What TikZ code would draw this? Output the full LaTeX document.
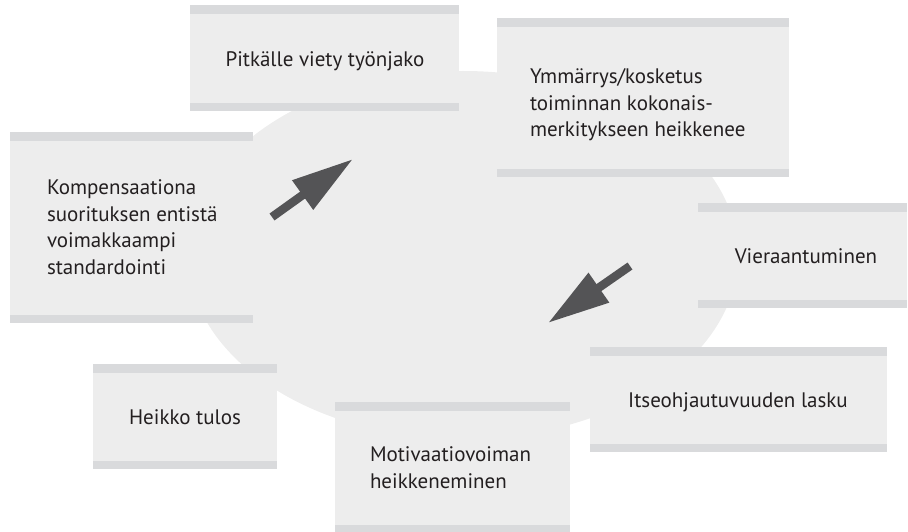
\documentclass[tikz,border=0pt]{standalone}
\usepackage{fontspec}
\setmainfont{PT Sans}
\usetikzlibrary{arrows.meta,shapes.geometric}

\definecolor{panel}{RGB}{237,237,237}
\definecolor{band}{RGB}{217,218,220}
\definecolor{blob}{RGB}{237,237,237}
\definecolor{ink}{RGB}{35,31,32}
\definecolor{arrowgray}{RGB}{84,84,86}

\tikzset{
  card/.style={fill=panel, inner sep=0pt, outer sep=0pt, anchor=north west,
    path picture={
      \fill[band] (path picture bounding box.north west)
        rectangle ([yshift=-9pt]path picture bounding box.north east);
      \fill[band] (path picture bounding box.south west)
        rectangle ([yshift=8pt]path picture bounding box.south east);
    }},
  cardtext/.style={text=ink, font=\fontsize{21}{26.5}\selectfont,
    inner sep=0pt, outer sep=0pt, align=left},
  flow/.style={draw=arrowgray, line width=8.5pt,
    -{Triangle[length=62pt,width=34pt]}}
}

\begin{document}
\begin{tikzpicture}[x=1pt,y=-1pt]
  \useasboundingbox (0,0) rectangle (908,532);

  % central backdrop
  \node[ellipse, fill=blob, inner sep=0pt, minimum width=550pt,
        minimum height=368pt] (hub) at (463,255) {};

  % cards
  \node[card, minimum width=269pt, minimum height=106pt] (b1) at (190,5) {};
  \node[card, minimum width=292pt, minimum height=159pt] (b2) at (497,18) {};
  \node[card, minimum width=243pt, minimum height=191pt] (b3) at (10,132) {};
  \node[card, minimum width=209pt, minimum height=105pt] (b4) at (698,203) {};
  \node[card, minimum width=297pt, minimum height=105pt] (b5) at (590,347) {};
  \node[card, minimum width=184pt, minimum height=105pt] (b6) at (93,364) {};
  \node[card, minimum width=235pt, minimum height=131pt] (b7) at (335,402) {};

  % card texts
  \node[cardtext, anchor=base] (t1) at (325,67) {Pitkälle viety työnjako};
  \node[cardtext, anchor=north west] (t2) at (530,69)
    {Ymmärrys/kosketus\\toiminnan kokonais-\\merkitykseen heikkenee};
  \node[cardtext, anchor=north west] (t3) at (47,180)
    {Kompensaationa\\suorituksen entistä\\voimakkaampi\\standardointi};
  \node[cardtext, anchor=base] (t4) at (806,263) {Vieraantuminen};
  \node[cardtext, anchor=base] (t5) at (738,407) {Itseohjautuvuuden lasku};
  \node[cardtext, anchor=base] (t6) at (185,424) {Heikko tulos};
  \node[cardtext, anchor=north west] (t7) at (370,447)
    {Motivaatiovoiman\\heikkeneminen};

  % direction arrows
  \coordinate (a1s) at (272,217);
  \coordinate (a1e) at (353,159);
  \coordinate (a2s) at (630,266);
  \coordinate (a2e) at (548,323);
  \draw[flow] (a1s) -- (a1e);
  \draw[flow] (a2s) -- (a2e);
\end{tikzpicture}
\end{document}
